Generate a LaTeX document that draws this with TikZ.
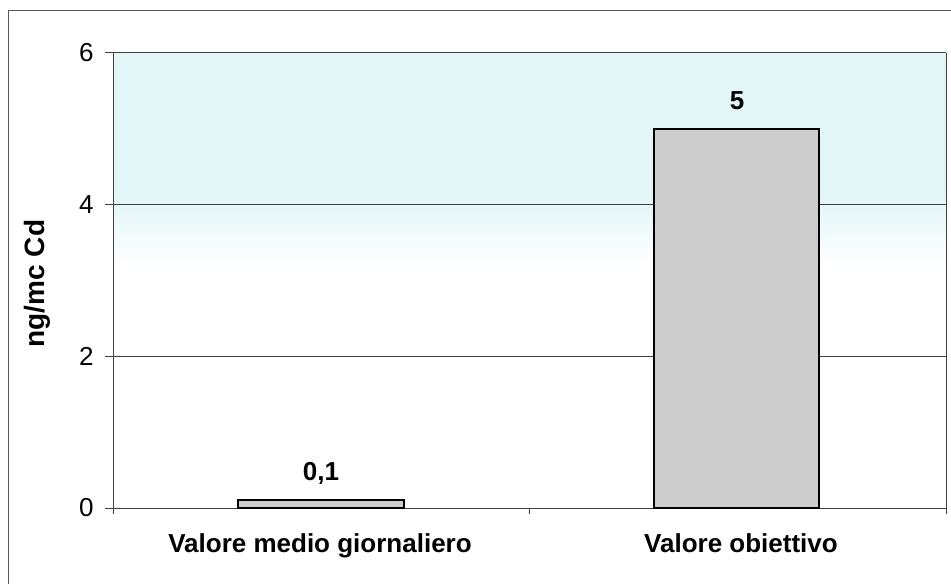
\documentclass[tikz,border=0pt]{standalone}
\usepackage{fontspec}
\setmainfont{Liberation Sans}
\usepackage{tikz}
\definecolor{plotcyan}{RGB}{226,246,248}
\tikzstyle{frame} = [draw=black!65, line width=0.5pt]
\tikzstyle{gridline} = [draw=black!75, line width=0.5pt]
\tikzstyle{bar} = [draw=black, line width=1pt, fill=black!20]
\tikzstyle{ticklabel} = [font=\fontsize{13}{15}\selectfont, inner sep=0pt, anchor=east]
\tikzstyle{catlabel} = [font=\bfseries\fontsize{13}{15}\selectfont, inner sep=0pt, anchor=base]
\tikzstyle{axislabel} = [font=\bfseries\fontsize{14}{16}\selectfont, inner sep=0pt, rotate=90]

\begin{document}
\begin{tikzpicture}[x=0.5pt, y=0.5pt]
\useasboundingbox (0,0) rectangle (951,583);
\clip (0,0) rectangle (951,583);

% outer frame
\draw [frame] (8,-10) rectangle (965,572);

% plot background
\fill [plotcyan] (113,530) rectangle (946,385);
\shade [top color=plotcyan, bottom color=white] (113,385) rectangle (946,318);

% grid and axes
\draw [gridline] (113,530) -- (946,530);
\draw [gridline] (113,378.3) -- (946,378.3);
\draw [gridline] (113,226.7) -- (946,226.7);
\draw [gridline] (113,75) -- (946,75);
\draw [gridline] (113,530) -- (113,69);
\draw [gridline] (946,530) -- (946,69);
\draw [gridline] (105,530) -- (113,530);
\draw [gridline] (105,378.3) -- (113,378.3);
\draw [gridline] (105,226.7) -- (113,226.7);
\draw [gridline] (105,75) -- (113,75);
\draw [gridline] (529.5,75) -- (529.5,69);

\node (t6) [ticklabel] at (94,530) {6};
\node (t4) [ticklabel] at (94,378.3) {4};
\node (t2) [ticklabel] at (94,226.7) {2};
\node (t0) [ticklabel] at (94,75) {0};

% bars
\draw [bar] (238,75) rectangle (404,82.6);
\draw [bar] (654,75) rectangle (819,454.2);

\node (valmedio) [catlabel] at (321,103) {0,1};
\node (valobiettivo) [catlabel] at (737,473) {5};

\node (catmedio) [catlabel] at (320,31) {Valore medio giornaliero};
\node (catobiettivo) [catlabel] at (741,31) {Valore obiettivo};

\node (ylabel) [axislabel] at (37.5,299.5) {ng/mc Cd};

\end{tikzpicture}
\end{document}
